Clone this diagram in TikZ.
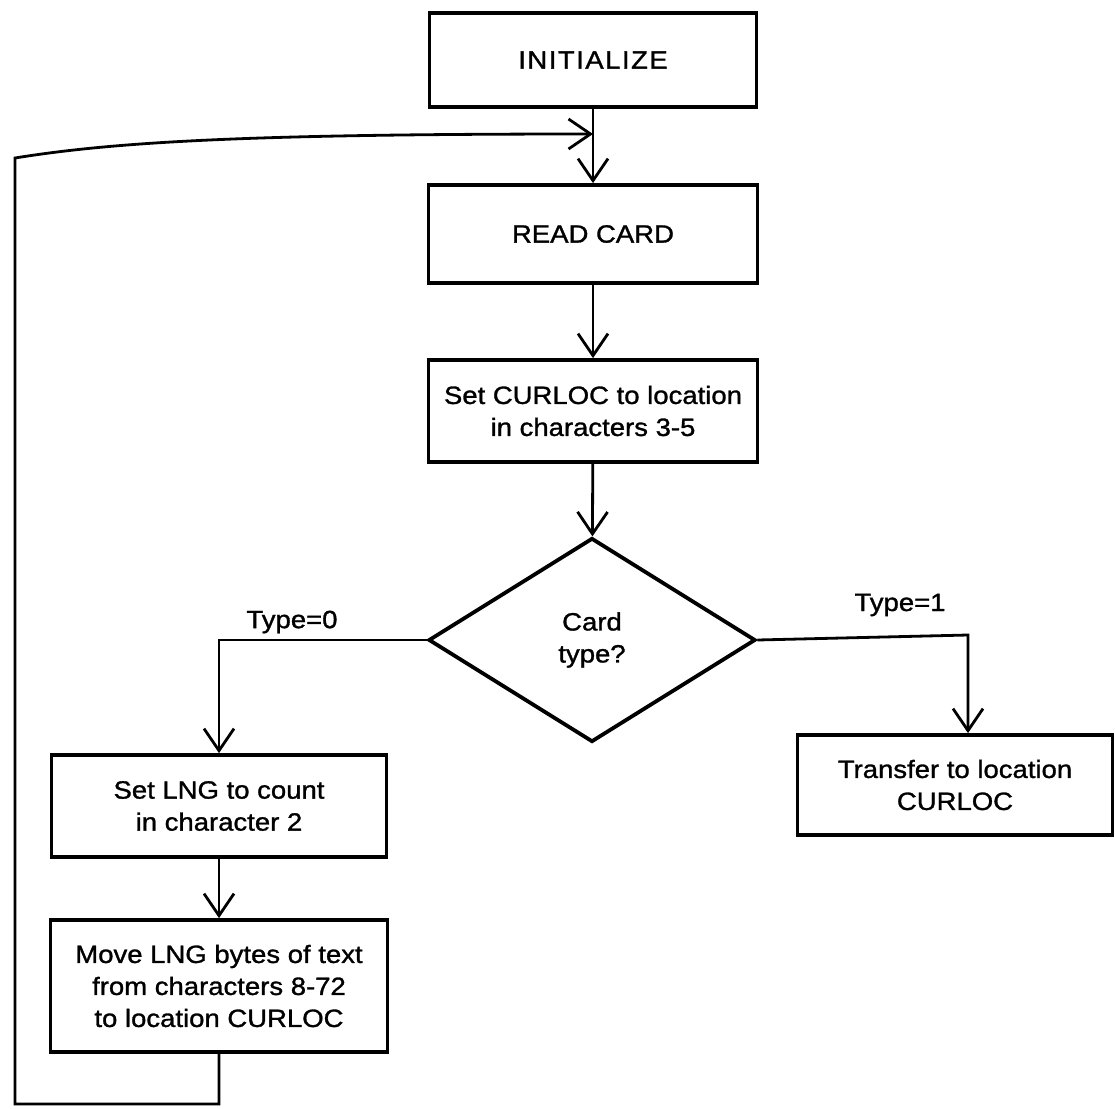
\documentclass[tikz,border=0pt]{standalone}
\usepackage{fontspec}
\setmainfont{Liberation Sans}[FakeStretch=1.1,FakeBold=1.2]
\usetikzlibrary{arrows.meta,shapes.geometric}
\begin{document}
\begin{tikzpicture}[x=1pt,y=-1pt,
  every node/.style={font=\fontsize{25}{32}\selectfont},
  box/.style={draw,line width=3.8pt,rectangle,align=center,inner sep=0pt},
  decision/.style={draw,line width=3.8pt,diamond,align=center,inner sep=0pt,minimum width=327pt,minimum height=204pt,shape aspect=1.6},
  conn/.style={line width=2.8pt,line join=miter},
  arr/.style={conn,-{Straight Barb[length=22pt,width=30pt,line width=2.8pt]}},
  lbl/.style={inner sep=0pt}
]
\useasboundingbox[fill=white] (0,0) rectangle (1115,1108);

\node[box,minimum width=327pt,minimum height=94pt] (init) at (593,60) {\addfontfeature{LetterSpace=6}INITIALIZE};
\node[box,minimum width=329pt,minimum height=98pt] (read) at (593,234) {READ CARD};
\node[box,minimum width=329pt,minimum height=102pt] (cur) at (593,411) {Set CURLOC to location\\in characters 3-5};
\node[decision] (dia) at (592,640) {Card\\type?};
\node[box,minimum width=335pt,minimum height=102pt] (lng) at (219,806) {Set LNG to count\\in character 2};
\node[box,minimum width=337pt,minimum height=132pt] (move) at (219,986) {Move LNG bytes of text\\from characters 8-72\\to location CURLOC};
\node[box,minimum width=315pt,minimum height=100pt] (xfer) at (955,785) {Transfer to location\\CURLOC};

\node[lbl] (t0) at (292,622) {Type=0};
\node[lbl] (t1) at (900,605) {Type=1};

\coordinate (rb) at (968,635);
\coordinate (c1) at (219,1104);
\coordinate (c2) at (15,1104);
\coordinate (c3) at (15,158);
\coordinate (c4) at (593,134);

\draw[arr] (init) -- (read);
\draw[arr] (read) -- (cur);
\draw[arr] (cur) -- (dia);
\draw[arr] (dia.west) -| (lng.north);
\draw[arr] (dia.east) -- (rb) -- (rb |- xfer.north);
\draw[arr] (lng) -- (move);
\draw[arr] (move.south) -- (c1) -- (c2) -- (c3) .. controls (120,141) and (260,134) .. (c4);
\end{tikzpicture}
\end{document}
